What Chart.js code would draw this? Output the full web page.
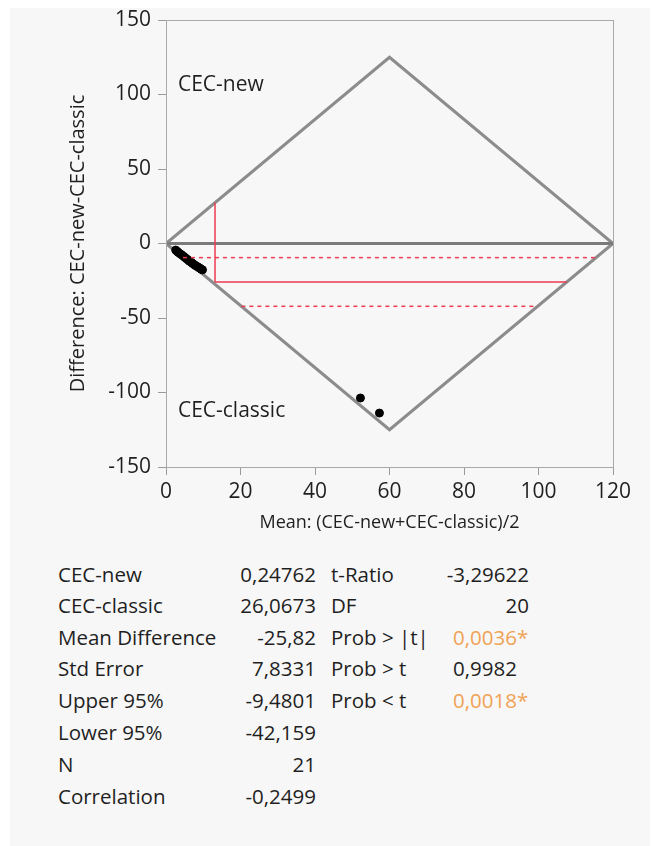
<!DOCTYPE html>
<html>
<head>
<meta charset="utf-8">
<script src="https://cdn.jsdelivr.net/npm/chart.js@4.4.1/dist/chart.umd.min.js"></script>
<style>
  body { margin: 0; background: #fff; font-family: "Open Sans", "Noto Sans", sans-serif; }
  #panel { position: absolute; left: 10px; top: 8px; width: 640px; height: 838px; background: #f7f7f7; }
  #chart { position: absolute; left: 0; top: 0; }
  .cell { position: absolute; font-size: 20.5px; line-height: 24px; color: #1f1f1f; white-space: nowrap; }
  .hl { color: #f0a255; }
</style>
</head>
<body>
<div id="panel"></div>
<canvas id="chart" width="654" height="545"></canvas>
<div id="table"></div>
<script>
"use strict";

// points: mean of the pair vs difference (new - classic)
var pairMeans = [2.6, 3.0, 3.3, 3.8, 4.2, 4.7, 5.1, 5.5, 5.9, 6.3, 6.8, 7.2, 7.6, 8.0, 8.4, 8.8, 9.1, 9.4, 9.8, 52.2, 57.3];
var pairDiffs = [-4.4, -5.3, -6.0, -6.9, -7.6, -8.6, -9.4, -10.2, -11.0, -11.9, -12.7, -13.5, -14.2, -14.9, -15.5, -16.1, -16.6, -17.2, -17.7, -103.7, -113.8];

// summary stats (also drive the red lines)
var meanNew = 0.24762;
var meanClassic = 26.0673;
var meanDiff = -25.82;
var upper95 = -9.4801;
var lower95 = -42.159;

// diamond limits
var diamondX = [0, 60, 120, 60, 0];
var diamondY = [0, 125, 0, -125, 0];

var xTicks = [0, 20, 40, 60, 80, 100, 120];
var yTicks = [-150, -100, -50, 0, 50, 100, 150];

var leftLabels = ["CEC-new", "CEC-classic", "Mean Difference", "Std Error", "Upper 95%", "Lower 95%", "N", "Correlation"];
var leftValues = ["0,24762", "26,0673", "-25,82", "7,8331", "-9,4801", "-42,159", "21", "-0,2499"];
var rightLabels = ["t-Ratio", "DF", "Prob > |t|", "Prob > t", "Prob < t"];
var rightValues = ["-3,29622", "20", "0,0036*", "0,9982", "0,0018*"];
var rightFlags = ["num", "num", "p-hl", "p", "p-hl"];

var RED = '#ee3a50';
var slope = diamondY[1] / diamondX[1];

// where a horizontal line at y (<0) meets the lower diamond edges
function leftEdge(y) { return -y / slope; }
function rightEdge(y) { return diamondX[2] + y / slope; }

var midMean = (meanNew + meanClassic) / 2;

var pts = [];
for (var i = 0; i < pairMeans.length; i++) pts.push({x: pairMeans[i], y: pairDiffs[i]});
var diamond = [];
for (var j = 0; j < diamondX.length; j++) diamond.push({x: diamondX[j], y: diamondY[j]});

function lineSet(data, color, width, dash, order) {
    return { data: data, showLine: true, borderColor: color, borderWidth: width,
             borderDash: dash || [], pointRadius: 0, fill: false, order: order };
}

var frame = {
    id: 'frame',
    afterDraw: function(chart) {
        var ctx = chart.ctx, a = chart.chartArea;
        ctx.save();
        ctx.strokeStyle = '#a9a9a9';
        ctx.lineWidth = 1;
        ctx.strokeRect(a.left + 0.5, a.top + 0.5, a.right - a.left, a.bottom - a.top);
        ctx.fillStyle = '#1f1f1f';
        ctx.font = '21px "Open Sans"';
        ctx.textBaseline = 'middle';
        var xs = chart.scales.x, ys = chart.scales.y;
        ctx.fillText('CEC-new', xs.getPixelForValue(3.2), ys.getPixelForValue(106.5));
        ctx.fillText('CEC-classic', xs.getPixelForValue(3.2), ys.getPixelForValue(-112.5));
        ctx.restore();
    }
};

var ctx = document.getElementById('chart').getContext('2d');
var chart = new Chart(ctx, {
    type: 'scatter',
    data: {
        datasets: [
            lineSet(diamond, '#8c8c8c', 3, null, 4),
            lineSet([{x: 0, y: 0}, {x: diamondX[2], y: 0}], '#7b7b7b', 3, null, 3),
            lineSet([{x: midMean, y: meanDiff}, {x: midMean, y: midMean * slope}], RED, 1.5, null, 1),
            lineSet([{x: midMean, y: meanDiff}, {x: rightEdge(meanDiff), y: meanDiff}], RED, 1.5, null, 1),
            lineSet([{x: leftEdge(upper95), y: upper95}, {x: rightEdge(upper95), y: upper95}], RED, 1.5, [4, 4], 1),
            lineSet([{x: leftEdge(lower95), y: lower95}, {x: rightEdge(lower95), y: lower95}], RED, 1.5, [4, 4], 1),
            { data: pts, backgroundColor: '#000', borderColor: '#000', pointRadius: 4, order: 2 }
        ]
    },
    options: {
        responsive: false,
        devicePixelRatio: 1,
        animation: false,
        layout: { padding: { left: 0, right: 41, top: 20, bottom: 0 } },
        plugins: { legend: { display: false }, tooltip: { enabled: false } },
        scales: {
            x: {
                type: 'linear', min: 0, max: 120,
                afterFit: function(s) { s.height = 78; },
                afterBuildTicks: function(s) { s.ticks = xTicks.map(function(v) { return {value: v}; }); },
                grid: { drawOnChartArea: false, drawTicks: true, tickLength: 8, color: '#9a9a9a' },
                border: { display: true, color: '#a9a9a9' },
                ticks: { color: '#1f1f1f', padding: 4, maxRotation: 0, font: { family: 'Open Sans', size: 21 } },
                title: { display: true, text: 'Mean: (CEC-new+CEC-classic)/2', color: '#1f1f1f',
                         padding: { top: 0, bottom: 11 }, font: { family: 'Open Sans', size: 18 } }
            },
            y: {
                type: 'linear', min: -150, max: 150,
                afterFit: function(s) { s.width = 166; },
                afterBuildTicks: function(s) { s.ticks = yTicks.map(function(v) { return {value: v}; }); },
                grid: { drawOnChartArea: false, drawTicks: true, tickLength: 8, color: '#9a9a9a' },
                border: { display: true, color: '#a9a9a9' },
                ticks: { color: '#1f1f1f', padding: 7, font: { family: 'Open Sans', size: 21 } },
                title: { display: true, text: 'Difference: CEC-new-CEC-classic', color: '#1f1f1f',
                         padding: { top: 66, bottom: 0 }, font: { family: 'Open Sans', size: 20 } }
            }
        }
    },
    plugins: [frame]
});

// summary table
var rowY = [574, 605, 637, 668, 700, 732, 764, 796];
var table = document.getElementById('table');
function addCell(text, left, top, align, width, cls) {
    var d = document.createElement('div');
    d.className = 'cell' + (cls ? ' ' + cls : '');
    d.textContent = text;
    d.style.top = (top - 12) + 'px';
    if (align === 'right') {
        d.style.left = (left - width) + 'px';
        d.style.width = width + 'px';
        d.style.textAlign = 'right';
    } else {
        d.style.left = left + 'px';
    }
    table.appendChild(d);
}
for (var r = 0; r < leftLabels.length; r++) {
    addCell(leftLabels[r], 58, rowY[r], 'left');
    addCell(leftValues[r], 316, rowY[r], 'right', 110);
}
for (var k = 0; k < rightLabels.length; k++) {
    addCell(rightLabels[k], 331, rowY[k], 'left');
    if (rightFlags[k] === 'num') {
        addCell(rightValues[k], 529, rowY[k], 'right', 110);
    } else {
        addCell(rightValues[k], 453, rowY[k], 'left', 0, rightFlags[k] === 'p-hl' ? 'hl' : '');
    }
}
</script>
</body>
</html>
